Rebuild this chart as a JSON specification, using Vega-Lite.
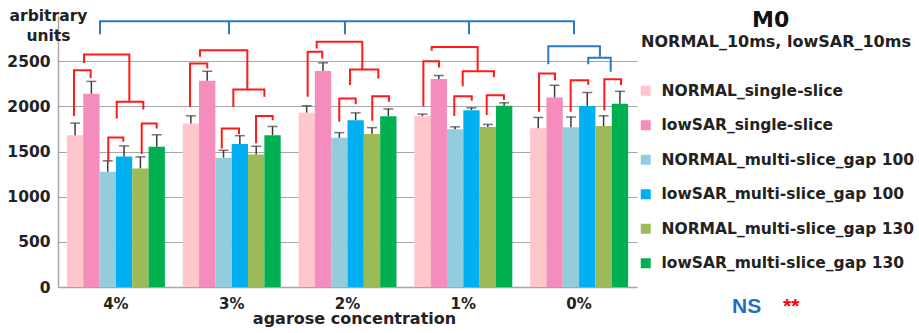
{
  "$schema": "https://vega.github.io/schema/vega-lite/v6.json",
  "autosize": "none",
  "padding": {"left": 58, "top": 16, "right": 282, "bottom": 46},
  "width": 579,
  "height": 271,
  "background": "white",
  "config": {
    "view": {"stroke": null},
    "font": "DejaVu Sans",
    "axis": {
      "domainColor": "#A6A6A6",
      "domainWidth": 1.5,
      "ticks": false,
      "tickSize": 0,
      "labelFont": "DejaVu Sans",
      "labelFontWeight": "bold",
      "labelFontSize": 15.5,
      "labelColor": "#222222",
      "titleFont": "DejaVu Sans",
      "titleFontWeight": "bold",
      "titleFontSize": 15.5,
      "titleColor": "#222222"
    }
  },
  "title": {
    "text": "M0",
    "anchor": "start",
    "frame": "group",
    "dx": 694,
    "dy": 41,
    "offset": 0,
    "baseline": "alphabetic",
    "font": "DejaVu Sans",
    "fontSize": 22,
    "fontWeight": "bold",
    "color": "#111111"
  },
  "layer": [
    {
      "data": {
        "values": [
          {"g": "4%", "s": "NORMAL_single-slice", "m": 1681, "e": 1814},
          {"g": "4%", "s": "lowSAR_single-slice", "m": 2140, "e": 2276},
          {"g": "4%", "s": "NORMAL_multi-slice_gap 100", "m": 1276, "e": 1397},
          {"g": "4%", "s": "lowSAR_multi-slice_gap 100", "m": 1444, "e": 1562},
          {"g": "4%", "s": "NORMAL_multi-slice_gap 130", "m": 1313, "e": 1440},
          {"g": "4%", "s": "lowSAR_multi-slice_gap 130", "m": 1552, "e": 1685},
          {"g": "3%", "s": "NORMAL_single-slice", "m": 1810, "e": 1895},
          {"g": "3%", "s": "lowSAR_single-slice", "m": 2282, "e": 2388},
          {"g": "3%", "s": "NORMAL_multi-slice_gap 100", "m": 1432, "e": 1513},
          {"g": "3%", "s": "lowSAR_multi-slice_gap 100", "m": 1582, "e": 1675},
          {"g": "3%", "s": "NORMAL_multi-slice_gap 130", "m": 1468, "e": 1558},
          {"g": "3%", "s": "lowSAR_multi-slice_gap 130", "m": 1681, "e": 1777},
          {"g": "2%", "s": "NORMAL_single-slice", "m": 1930, "e": 2006},
          {"g": "2%", "s": "lowSAR_single-slice", "m": 2391, "e": 2482},
          {"g": "2%", "s": "NORMAL_multi-slice_gap 100", "m": 1652, "e": 1709},
          {"g": "2%", "s": "lowSAR_multi-slice_gap 100", "m": 1847, "e": 1928},
          {"g": "2%", "s": "NORMAL_multi-slice_gap 130", "m": 1694, "e": 1764},
          {"g": "2%", "s": "lowSAR_multi-slice_gap 130", "m": 1890, "e": 1971},
          {"g": "1%", "s": "NORMAL_single-slice", "m": 1892, "e": 1914},
          {"g": "1%", "s": "lowSAR_single-slice", "m": 2302, "e": 2341},
          {"g": "1%", "s": "NORMAL_multi-slice_gap 100", "m": 1746, "e": 1773},
          {"g": "1%", "s": "lowSAR_multi-slice_gap 100", "m": 1958, "e": 1983},
          {"g": "1%", "s": "NORMAL_multi-slice_gap 130", "m": 1772, "e": 1800},
          {"g": "1%", "s": "lowSAR_multi-slice_gap 130", "m": 2006, "e": 2039},
          {"g": "0%", "s": "NORMAL_single-slice", "m": 1757, "e": 1877},
          {"g": "0%", "s": "lowSAR_single-slice", "m": 2098, "e": 2233},
          {"g": "0%", "s": "NORMAL_multi-slice_gap 100", "m": 1768, "e": 1882},
          {"g": "0%", "s": "lowSAR_multi-slice_gap 100", "m": 2004, "e": 2153},
          {"g": "0%", "s": "NORMAL_multi-slice_gap 130", "m": 1781, "e": 1895},
          {"g": "0%", "s": "lowSAR_multi-slice_gap 130", "m": 2028, "e": 2166}
        ]
      },
      "encoding": {
        "x": {
          "field": "g",
          "type": "nominal",
          "sort": ["4%", "3%", "2%", "1%", "0%"],
          "scale": {"paddingInner": 0, "paddingOuter": 0},
          "axis": {
            "labelAngle": 0,
            "labelBaseline": "alphabetic",
            "labelPadding": 21,
            "labelFontSize": 15,
            "title": "agarose concentration",
            "titleFontSize": 16,
            "titleX": 296,
            "titleY": 36,
            "titleAlign": "center",
            "titleBaseline": "alphabetic"
          }
        },
        "xOffset": {
          "field": "s",
          "type": "nominal",
          "sort": ["NORMAL_single-slice", "lowSAR_single-slice", "NORMAL_multi-slice_gap 100", "lowSAR_multi-slice_gap 100", "NORMAL_multi-slice_gap 130", "lowSAR_multi-slice_gap 130"],
          "scale": {"paddingInner": 0, "paddingOuter": 0.545}
        },
        "y": {
          "field": "m",
          "type": "quantitative",
          "scale": {"domain": [0, 3000], "nice": false},
          "axis": {
            "values": [0, 500, 1000, 1500, 2000, 2500],
            "format": "d",
            "grid": true,
            "gridColor": "#A6A6A6",
            "gridWidth": 1.2,
            "labelPadding": 8,
            "title": ["arbitrary", "units"],
            "titleAngle": 0,
            "titleAlign": "center",
            "titleBaseline": "alphabetic",
            "titleX": -10,
            "titleY": 4,
            "titleLineHeight": 20
          }
        }
      },
      "layer": [
        {
          "mark": {"type": "bar"},
          "encoding": {
            "color": {
              "field": "s",
              "type": "nominal",
              "scale": {
                "domain": ["NORMAL_single-slice", "lowSAR_single-slice", "NORMAL_multi-slice_gap 100", "lowSAR_multi-slice_gap 100", "NORMAL_multi-slice_gap 130", "lowSAR_multi-slice_gap 130"],
                "range": ["#FFC6CB", "#F48DBE", "#93CDDD", "#00B0F0", "#9BBB59", "#00B050"]
              },
              "legend": {
                "orient": "none",
                "legendX": 580,
                "legendY": 18,
                "padding": 0,
                "title": "NORMAL_10ms, lowSAR_10ms",
                "titleFont": "DejaVu Sans",
                "titleFontSize": 16,
                "titleFontWeight": "bold",
                "titleColor": "#222222",
                "titleAnchor": "middle",
                "titlePadding": 33,
                "titleLimit": 400,
                "labelFont": "DejaVu Sans",
                "labelFontSize": 15.5,
                "labelFontWeight": "bold",
                "labelColor": "#222222",
                "labelLimit": 320,
                "labelOffset": 8,
                "symbolType": "square",
                "symbolSize": 100,
                "symbolStrokeWidth": 0,
                "rowPadding": 17.5
              }
            }
          }
        },
        {
          "mark": {"type": "rule", "color": "#3C3C3C", "strokeWidth": 1.5},
          "encoding": {"y2": {"field": "e"}}
        },
        {
          "mark": {"type": "tick", "color": "#3C3C3C", "thickness": 1.5, "size": 10},
          "encoding": {"y": {"field": "e", "type": "quantitative"}}
        }
      ]
    },
    {
      "data": {
        "values": [
          {"b": "a1", "k": 0, "p": 0.138, "v": 1892, "sig": "**"},
          {"b": "a1", "k": 1, "p": 0.138, "v": 2400, "sig": "**"},
          {"b": "a1", "k": 2, "p": 0.282, "v": 2400, "sig": "**"},
          {"b": "a1", "k": 3, "p": 0.282, "v": 2315, "sig": "**"},
          {"b": "a2", "k": 0, "p": 0.434, "v": 1386, "sig": "**"},
          {"b": "a2", "k": 1, "p": 0.434, "v": 1656, "sig": "**"},
          {"b": "a2", "k": 2, "p": 0.564, "v": 1656, "sig": "**"},
          {"b": "a2", "k": 3, "p": 0.564, "v": 1607, "sig": "**"},
          {"b": "a3", "k": 0, "p": 0.723, "v": 1471, "sig": "**"},
          {"b": "a3", "k": 1, "p": 0.723, "v": 1811, "sig": "**"},
          {"b": "a3", "k": 2, "p": 0.852, "v": 1811, "sig": "**"},
          {"b": "a3", "k": 3, "p": 0.852, "v": 1756, "sig": "**"},
          {"b": "a4", "k": 0, "p": 0.507, "v": 1866, "sig": "**"},
          {"b": "a4", "k": 1, "p": 0.507, "v": 2050, "sig": "**"},
          {"b": "a4", "k": 2, "p": 0.737, "v": 2050, "sig": "**"},
          {"b": "a4", "k": 3, "p": 0.737, "v": 1966, "sig": "**"},
          {"b": "a5", "k": 0, "p": 0.225, "v": 2481, "sig": "**"},
          {"b": "a5", "k": 1, "p": 0.225, "v": 2574, "sig": "**"},
          {"b": "a5", "k": 2, "p": 0.616, "v": 2574, "sig": "**"},
          {"b": "a5", "k": 3, "p": 0.616, "v": 2050, "sig": "**"},
          {"b": "b1", "k": 0, "p": 1.140, "v": 1994, "sig": "**"},
          {"b": "b1", "k": 1, "p": 1.140, "v": 2475, "sig": "**"},
          {"b": "b1", "k": 2, "p": 1.289, "v": 2475, "sig": "**"},
          {"b": "b1", "k": 3, "p": 1.289, "v": 2419, "sig": "**"},
          {"b": "b2", "k": 0, "p": 1.414, "v": 1534, "sig": "**"},
          {"b": "b2", "k": 1, "p": 1.414, "v": 1756, "sig": "**"},
          {"b": "b2", "k": 2, "p": 1.563, "v": 1756, "sig": "**"},
          {"b": "b2", "k": 3, "p": 1.563, "v": 1692, "sig": "**"},
          {"b": "b3", "k": 0, "p": 1.710, "v": 1590, "sig": "**"},
          {"b": "b3", "k": 1, "p": 1.710, "v": 1892, "sig": "**"},
          {"b": "b3", "k": 2, "p": 1.854, "v": 1892, "sig": "**"},
          {"b": "b3", "k": 3, "p": 1.854, "v": 1847, "sig": "**"},
          {"b": "b4", "k": 0, "p": 1.514, "v": 1994, "sig": "**"},
          {"b": "b4", "k": 1, "p": 1.514, "v": 2187, "sig": "**"},
          {"b": "b4", "k": 2, "p": 1.782, "v": 2187, "sig": "**"},
          {"b": "b4", "k": 3, "p": 1.782, "v": 2105, "sig": "**"},
          {"b": "b5", "k": 0, "p": 1.226, "v": 2548, "sig": "**"},
          {"b": "b5", "k": 1, "p": 1.226, "v": 2622, "sig": "**"},
          {"b": "b5", "k": 2, "p": 1.635, "v": 2622, "sig": "**"},
          {"b": "b5", "k": 3, "p": 1.635, "v": 2187, "sig": "**"},
          {"b": "c1", "k": 0, "p": 2.156, "v": 2105, "sig": "**"},
          {"b": "c1", "k": 1, "p": 2.156, "v": 2603, "sig": "**"},
          {"b": "c1", "k": 2, "p": 2.282, "v": 2603, "sig": "**"},
          {"b": "c1", "k": 3, "p": 2.282, "v": 2530, "sig": "**"},
          {"b": "c2", "k": 0, "p": 2.429, "v": 1829, "sig": "**"},
          {"b": "c2", "k": 1, "p": 2.429, "v": 2087, "sig": "**"},
          {"b": "c2", "k": 2, "p": 2.571, "v": 2087, "sig": "**"},
          {"b": "c2", "k": 3, "p": 2.571, "v": 2024, "sig": "**"},
          {"b": "c3", "k": 0, "p": 2.714, "v": 1840, "sig": "**"},
          {"b": "c3", "k": 1, "p": 2.714, "v": 2113, "sig": "**"},
          {"b": "c3", "k": 2, "p": 2.858, "v": 2113, "sig": "**"},
          {"b": "c3", "k": 3, "p": 2.858, "v": 2050, "sig": "**"},
          {"b": "c4", "k": 0, "p": 2.522, "v": 2235, "sig": "**"},
          {"b": "c4", "k": 1, "p": 2.522, "v": 2408, "sig": "**"},
          {"b": "c4", "k": 2, "p": 2.766, "v": 2408, "sig": "**"},
          {"b": "c4", "k": 3, "p": 2.766, "v": 2309, "sig": "**"},
          {"b": "c5", "k": 0, "p": 2.234, "v": 2640, "sig": "**"},
          {"b": "c5", "k": 1, "p": 2.234, "v": 2714, "sig": "**"},
          {"b": "c5", "k": 2, "p": 2.628, "v": 2714, "sig": "**"},
          {"b": "c5", "k": 3, "p": 2.628, "v": 2408, "sig": "**"},
          {"b": "d1", "k": 0, "p": 3.155, "v": 2002, "sig": "**"},
          {"b": "d1", "k": 1, "p": 3.155, "v": 2500, "sig": "**"},
          {"b": "d1", "k": 2, "p": 3.290, "v": 2500, "sig": "**"},
          {"b": "d1", "k": 3, "p": 3.290, "v": 2430, "sig": "**"},
          {"b": "d2", "k": 0, "p": 3.422, "v": 1892, "sig": "**"},
          {"b": "d2", "k": 1, "p": 3.422, "v": 2113, "sig": "**"},
          {"b": "d2", "k": 2, "p": 3.573, "v": 2113, "sig": "**"},
          {"b": "d2", "k": 3, "p": 3.573, "v": 2061, "sig": "**"},
          {"b": "d3", "k": 0, "p": 3.702, "v": 1903, "sig": "**"},
          {"b": "d3", "k": 1, "p": 3.702, "v": 2124, "sig": "**"},
          {"b": "d3", "k": 2, "p": 3.851, "v": 2124, "sig": "**"},
          {"b": "d3", "k": 3, "p": 3.851, "v": 2069, "sig": "**"},
          {"b": "d4", "k": 0, "p": 3.495, "v": 2223, "sig": "**"},
          {"b": "d4", "k": 1, "p": 3.495, "v": 2389, "sig": "**"},
          {"b": "d4", "k": 2, "p": 3.765, "v": 2389, "sig": "**"},
          {"b": "d4", "k": 3, "p": 3.765, "v": 2326, "sig": "**"},
          {"b": "d5", "k": 0, "p": 3.227, "v": 2614, "sig": "**"},
          {"b": "d5", "k": 1, "p": 3.227, "v": 2658, "sig": "**"},
          {"b": "d5", "k": 2, "p": 3.624, "v": 2658, "sig": "**"},
          {"b": "d5", "k": 3, "p": 3.624, "v": 2389, "sig": "**"},
          {"b": "e1", "k": 0, "p": 4.154, "v": 1939, "sig": "**"},
          {"b": "e1", "k": 1, "p": 4.154, "v": 2364, "sig": "**"},
          {"b": "e1", "k": 2, "p": 4.292, "v": 2364, "sig": "**"},
          {"b": "e1", "k": 3, "p": 4.292, "v": 2290, "sig": "**"},
          {"b": "e2", "k": 0, "p": 4.427, "v": 1939, "sig": "**"},
          {"b": "e2", "k": 1, "p": 4.427, "v": 2290, "sig": "**"},
          {"b": "e2", "k": 2, "p": 4.579, "v": 2290, "sig": "**"},
          {"b": "e2", "k": 3, "p": 4.579, "v": 2235, "sig": "**"},
          {"b": "e3", "k": 0, "p": 4.718, "v": 1958, "sig": "**"},
          {"b": "e3", "k": 1, "p": 4.718, "v": 2301, "sig": "**"},
          {"b": "e3", "k": 2, "p": 4.862, "v": 2301, "sig": "**"},
          {"b": "e3", "k": 3, "p": 4.862, "v": 2235, "sig": "**"},
          {"b": "e4", "k": 0, "p": 4.579, "v": 2467, "sig": "NS"},
          {"b": "e4", "k": 1, "p": 4.579, "v": 2537, "sig": "NS"},
          {"b": "e4", "k": 2, "p": 4.773, "v": 2537, "sig": "NS"},
          {"b": "e4", "k": 3, "p": 4.773, "v": 2382, "sig": "NS"},
          {"b": "e5", "k": 0, "p": 4.234, "v": 2467, "sig": "NS"},
          {"b": "e5", "k": 1, "p": 4.234, "v": 2666, "sig": "NS"},
          {"b": "e5", "k": 2, "p": 4.680, "v": 2666, "sig": "NS"},
          {"b": "e5", "k": 3, "p": 4.680, "v": 2548, "sig": "NS"},
          {"b": "t0", "k": 0, "p": 0.363, "v": 2797, "sig": "NS"},
          {"b": "t0", "k": 1, "p": 0.363, "v": 2942, "sig": "NS"},
          {"b": "t0", "k": 2, "p": 4.456, "v": 2942, "sig": "NS"},
          {"b": "t0", "k": 3, "p": 4.456, "v": 2797, "sig": "NS"},
          {"b": "t1", "k": 0, "p": 1.477, "v": 2942, "sig": "NS"},
          {"b": "t1", "k": 1, "p": 1.477, "v": 2797, "sig": "NS"},
          {"b": "t2", "k": 0, "p": 2.478, "v": 2942, "sig": "NS"},
          {"b": "t2", "k": 1, "p": 2.478, "v": 2797, "sig": "NS"},
          {"b": "t3", "k": 0, "p": 3.549, "v": 2942, "sig": "NS"},
          {"b": "t3", "k": 1, "p": 3.549, "v": 2797, "sig": "NS"}
        ]
      },
      "mark": {"type": "line", "strokeWidth": 2, "strokeJoin": "miter", "strokeCap": "butt", "clip": false},
      "encoding": {
        "x": {"field": "p", "type": "quantitative", "scale": {"domain": [0, 5], "nice": false, "zero": false}, "axis": null},
        "y": {"field": "v", "type": "quantitative", "scale": {"domain": [0, 3000], "nice": false}, "axis": null},
        "detail": {"field": "b", "type": "nominal"},
        "order": {"field": "k", "type": "quantitative"},
        "stroke": {
          "field": "sig",
          "type": "nominal",
          "scale": {"domain": ["NS", "**"], "range": ["#2A78C8", "#FF1A1A"]},
          "legend": {
            "orient": "none",
            "legendX": 653,
            "legendY": 280,
            "direction": "horizontal",
            "padding": 0,
            "title": null,
            "symbolSize": 0,
            "symbolOpacity": 0,
            "labelOffset": 0,
            "columnPadding": -12,
            "labelFont": "Liberation Sans",
            "labelFontSize": 21,
            "labelFontWeight": "bold",
            "encode": {
              "labels": {
                "update": {"fill": {"signal": "datum.value === 'NS' ? '#1F6FC5' : '#FF0000'"}}
              }
            }
          }
        }
      }
    }
  ],
  "resolve": {"scale": {"x": "independent"}, "axis": {"y": "independent"}}
}
